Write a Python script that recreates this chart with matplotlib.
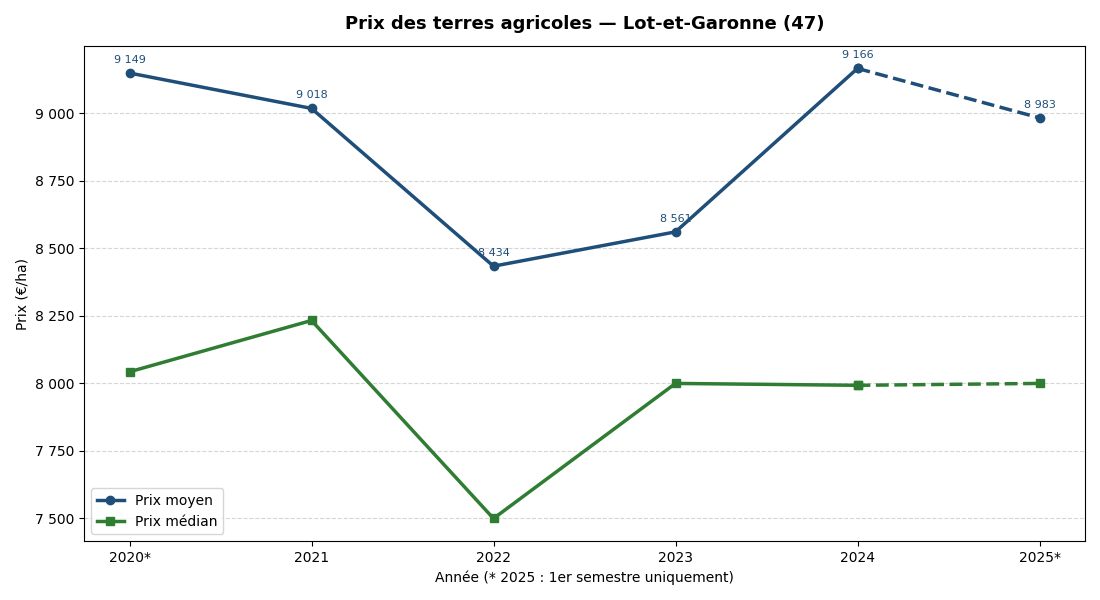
import matplotlib
matplotlib.use("Agg")
import matplotlib.pyplot as plt
from matplotlib.ticker import FuncFormatter, MultipleLocator

years = ["2020*", "2021", "2022", "2023", "2024", "2025*"]
prix_moyen = [9149, 9018, 8434, 8561, 9166, 8983]
prix_median = [8043, 8233, 7500, 8000, 7993, 8000]

blue = "#1f4e79"
green = "#2e7d32"

fig = plt.figure(figsize=(11, 6), dpi=100)
ax = fig.add_axes([84/1100, 1 - 541/600, 1001/1100, 495/600])

x = list(range(len(years)))
ax.plot(x[:5], prix_moyen[:5], color=blue, lw=2.5, marker="o", ms=6, label="Prix moyen")
ax.plot(x[4:], prix_moyen[4:], color=blue, lw=2.5, ls="--", marker="o", ms=6)
ax.plot(x[:5], prix_median[:5], color=green, lw=2.5, marker="s", ms=6, label="Prix médian")
ax.plot(x[4:], prix_median[4:], color=green, lw=2.5, ls="--", marker="s", ms=6)

def fmt(v):
    return f"{int(round(v)):,}".replace(",", " ")

for xi, v in zip(x, prix_moyen):
    ax.annotate(fmt(v), (xi, v), textcoords="offset points", xytext=(0, 6),
                ha="center", va="bottom", fontsize=8, color=blue)

ax.set_xticks(x)
ax.set_xticklabels(years)
ax.yaxis.set_major_locator(MultipleLocator(250))
ax.yaxis.set_major_formatter(FuncFormatter(lambda v, p: fmt(v)))
ax.grid(axis="y", ls="--", color="#cccccc", alpha=0.8)
ax.set_axisbelow(True)
ax.set_xlim(-0.25, 5.25)
ax.set_ylim(7416.7, 9249)
ax.set_title("Prix des terres agricoles — Lot-et-Garonne (47)", fontsize=13, fontweight="bold", pad=12)
ax.set_xlabel("Année (* 2025 : 1er semestre uniquement)")
ax.set_ylabel("Prix (€/ha)")
ax.legend(loc="lower left")

fig.savefig("out.png", dpi=100)
